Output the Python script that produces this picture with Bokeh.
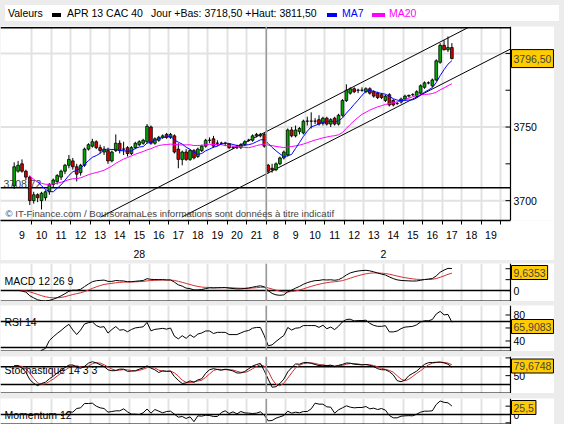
import numpy as np
import pandas as pd
from bokeh.plotting import figure
from bokeh.layouts import column
from bokeh.models import (ColumnDataSource, Span, Label, FixedTicker, Range1d,
                          Spacer, Grid, Div, LinearAxis)
from bokeh.core.properties import value
from bokeh.embed import file_html
from bokeh.resources import INLINE

# ---------------- data ----------------
hours_day1 = list(range(9, 22))      # 28 (March)
hours_day2 = list(range(8, 20))      # 2 (April)
day_labels = ["28", "2"]
bars_per_hour = 5

open_ = [3710, 3720, 3725, 3720, 3716, 3700, 3704, 3700, 3702, 3706,
         3711, 3713, 3716, 3720, 3724, 3727, 3723, 3719, 3724, 3735,
         3737, 3740, 3736, 3733, 3734, 3727, 3734, 3739, 3735, 3736,
         3732, 3736, 3738, 3739, 3740, 3750, 3739, 3741, 3743, 3745,
         3743, 3744, 3735, 3728, 3733, 3728, 3734, 3730, 3734, 3737,
         3741, 3742, 3739, 3739, 3739, 3738.5, 3736, 3736, 3736, 3738,
         3741, 3741, 3744, 3744, 3745,
         3724, 3722, 3721, 3725, 3729, 3731, 3748, 3744, 3747, 3746,
         3754, 3754, 3754, 3755, 3752.5, 3756, 3752, 3756, 3752, 3758,
         3768, 3773, 3776, 3775, 3775, 3774, 3776, 3774, 3773, 3772,
         3768, 3772, 3768, 3766, 3767, 3769, 3771, 3772, 3771, 3773,
         3777, 3780, 3778, 3782, 3794, 3805.5, 3802.5, 3804]
high_ = [3726, 3727, 3728, 3721, 3717, 3706, 3705, 3706, 3707, 3712,
         3715, 3718, 3721, 3725, 3731, 3729, 3725, 3725, 3736, 3739,
         3742, 3741, 3738, 3737, 3736, 3734, 3745, 3741, 3740, 3737,
         3737, 3740, 3741, 3742, 3752, 3751, 3743, 3744, 3745, 3746,
         3746, 3745, 3739, 3734, 3735, 3735, 3735, 3736, 3738, 3742,
         3743, 3744, 3741, 3740, 3740, 3739, 3737, 3738, 3739, 3741,
         3742, 3745, 3746, 3746, 3746,
         3725, 3725, 3726, 3730, 3734, 3749, 3750, 3751, 3750, 3755,
         3757, 3760, 3756, 3758, 3757, 3757, 3756, 3757, 3759, 3769,
         3779, 3777, 3777, 3776, 3777, 3777, 3777, 3775, 3774, 3773,
         3772, 3773, 3769, 3767, 3770, 3772, 3772, 3773, 3775, 3779,
         3781, 3781, 3783, 3796, 3807, 3809, 3811.5, 3807]
low_ = [3708, 3719, 3719, 3714, 3697, 3698, 3699, 3694, 3700, 3704,
        3709, 3711, 3714, 3718, 3722, 3721, 3713, 3717, 3723, 3734,
        3736, 3735, 3732, 3731, 3725, 3726, 3733, 3732, 3731, 3730,
        3731, 3735, 3737, 3738, 3739, 3738, 3738, 3740, 3742, 3742,
        3742, 3732, 3722, 3724, 3727, 3727, 3728, 3729, 3733, 3736,
        3739, 3736, 3737, 3738, 3737, 3735, 3735, 3735, 3735, 3737,
        3740, 3740, 3743, 3743, 3736,
        3718.5, 3719, 3720, 3724, 3728, 3730, 3743, 3743, 3745, 3745,
        3751, 3749, 3752, 3751, 3751, 3751, 3750, 3751, 3751, 3757,
        3767, 3772, 3773, 3773, 3774, 3773, 3772, 3770, 3769, 3769,
        3767, 3764, 3764, 3765, 3766, 3768, 3770, 3771, 3770, 3772,
        3776, 3779, 3777, 3781, 3793, 3802, 3801, 3796]
close_ = [3723, 3724, 3720, 3716, 3700, 3704, 3702, 3705, 3706, 3711,
          3714, 3717, 3720, 3724, 3728, 3723, 3718, 3724, 3735, 3738,
          3740, 3736, 3734, 3735, 3727, 3733, 3739, 3734, 3735, 3732,
          3736, 3739, 3740, 3741, 3750.5, 3739, 3742, 3743, 3744, 3743,
          3745, 3733, 3728, 3733, 3728, 3734, 3729, 3735, 3737, 3741,
          3741, 3737, 3739, 3739, 3739, 3736, 3736, 3736, 3738, 3740,
          3741, 3744, 3745, 3745, 3737,
          3720, 3721, 3725, 3729, 3733, 3748, 3744, 3748, 3749, 3754,
          3754, 3754, 3754, 3752, 3756, 3752, 3755, 3752, 3758, 3768,
          3775, 3776, 3774, 3775, 3775, 3776, 3773, 3771, 3770, 3770,
          3771, 3765, 3765, 3766, 3769, 3771, 3771.5, 3772, 3774, 3778,
          3780, 3780, 3782, 3795, 3805.5, 3802.5, 3804, 3796.5]

day_low, day_high = 3718.50, 3811.50
ref_level = 3708.72
# trend channel (bar index, price) end points
chan_up_x, chan_up_y = [22.1, 116.1], [3688.8, 3817.5]
chan_lo_x, chan_lo_y = [42.9, 127.0], [3688.8, 3803.0]
# last values shown in the boxes
last_macd, last_rsi, last_sto, last_mom = 9.6353, 65.9083, 79.6748, 25.5

# ---------------- indicators ----------------
c = pd.Series(close_, dtype=float)
hi = pd.Series(high_, dtype=float)
lo = pd.Series(low_, dtype=float)
ma7 = c.rolling(7).mean()
ma20 = c.rolling(20, min_periods=5).mean()
macd = c.ewm(span=12, adjust=False).mean() - c.ewm(span=26, adjust=False).mean()
sig = macd.ewm(span=9, adjust=False).mean()
d = c.diff().fillna(0)
ag = d.clip(lower=0).ewm(alpha=1 / 14, adjust=False).mean()
al = (-d.clip(upper=0)).ewm(alpha=1 / 14, adjust=False).mean()
rsi = 100 - 100 / (1 + ag / al.replace(0, np.nan))
ll = lo.rolling(14, min_periods=1).min()
hh = hi.rolling(14, min_periods=1).max()
kraw = (c - ll) / (hh - ll) * 100
sk = kraw.rolling(3, min_periods=1).mean()
sd = sk.rolling(3, min_periods=1).mean()
mom = c - c.shift(12)

x = np.arange(len(close_))
n_hours = len(hours_day1) + len(hours_day2)
hour_centers = [k * bars_per_hour + (bars_per_hour - 1) // 2 for k in range(n_hours)]
boundaries = [k * bars_per_hour - 0.5 for k in range(1, n_hours + 1)]
day_break = len(hours_day1) * bars_per_hour - 0.5
hour_text = [str(h) for h in hours_day1 + hours_day2]
day_pos = [float(np.mean(hour_centers[:len(hours_day1)])),
           float(np.mean(hour_centers[len(hours_day1):]))]

# ---------------- styling ----------------
W, RIGHT = 554, 44
FW = W - RIGHT
FONT = "Liberation Sans"
GRID = "#e2e2e2"
BG = "#ececec"
GREEN, RED = "#00a800", "#d40000"
SIGRED = "#d23030"
BOX = "#ffcc00"

X0, XR = -3.5, 127.0
pps = FW / (XR - X0)              # pixels per bar
x_range = Range1d(X0, XR + RIGHT / pps)
TICK = 5 / pps


def make_fig(h, yr, bottom=0, x_axis=False):
    f = figure(width=W, height=h, x_range=x_range, y_range=Range1d(*yr),
               output_backend="svg", toolbar_location=None,
               y_axis_type=None,
               x_axis_type="linear" if x_axis else None,
               min_border_left=0, min_border_right=0,
               min_border_top=0, min_border_bottom=bottom)
    f.background_fill_color = "white"
    f.border_fill_color = "white"
    f.outline_line_color = None
    for g in f.grid:
        g.visible = False
    f.add_layout(Grid(dimension=0, ticker=FixedTicker(ticks=boundaries),
                      grid_line_color=GRID, grid_line_width=2))
    f.add_layout(Span(location=day_break, dimension="height",
                      line_color="#9a9a9a", line_width=1.5))
    return f


def hline(f, y, width=1.5, level="glyph"):
    f.segment(x0=[X0], y0=[y], x1=[XR], y1=[y], line_color="black",
              line_width=width, level=level)


def right_axis(f, ticks, labels):
    f.add_layout(Span(location=XR, dimension="height", line_color="black",
                      line_width=1.2))
    n = len(ticks)
    f.segment(x0=[XR - TICK] * n, y0=ticks, x1=[XR] * n, y1=ticks,
              line_color="black", line_width=1)
    f.text(x=[XR] * n, y=ticks, text=labels, x_offset=3,
           text_baseline="middle", text_align="left",
           text_font=value(FONT), text_font_size=value("10.5px"),
           text_color="black")


def box(f, val, text, y_units="data", size="10.5px", pad=(2, 3)):
    f.add_layout(Label(x=XR, y=val, x_offset=1, y_units=y_units,
                       text=text, text_font=FONT, text_font_size=size,
                       text_baseline="middle", text_align="left",
                       background_fill_color=BOX, border_line_color="black",
                       border_line_width=1, padding=pad))


def tag(f, text, y):
    f.add_layout(Label(x=4, y=y, x_units="screen", y_units="screen", text=text,
                       text_font=FONT, text_font_size="10.5px",
                       text_baseline="alphabetic", text_color="black"))


def fmt(v):
    return f"{v:.2f}".replace(".", ",")


# ---------------- title row ----------------
title_items = [
    (3, "Valeurs", "black"),
    (62, "APR 13 CAC 40", "black"),
    (146, f"Jour +Bas: {fmt(day_low)} +Haut: {fmt(day_high)}", "black"),
    (337, "MA7", "#0000ff"),
    (384, "MA20", "#ff00ff"),
]
swatches = [(47, 9, "black"), (322, 10, "#0000ff"), (367, 13, "#ff00ff")]
html = ('<div style="position:relative;width:%dpx;height:16px;background:white;'
        "font-family:'Liberation Sans';font-size:10.5px;\">" % W)
for tx, txt, col in title_items:
    html += ('<span style="position:absolute;left:%dpx;top:2px;line-height:13px;'
             'color:%s;white-space:nowrap;">%s</span>' % (tx, col, txt))
for sx, sw, col in swatches:
    html += ('<span style="position:absolute;left:%dpx;top:8px;width:%dpx;'
             'height:4px;background:%s;"></span>' % (sx, sw, col))
html += "</div>"
title = Div(text=html, width=W, height=16, styles={"background-color": "white"})

# ---------------- main price panel ----------------
Y0, Y1 = 3686.5, 3818.3
p = make_fig(234, (Y0, Y1), bottom=32, x_axis=True)
p.segment(x0=[X0] * 3, y0=[3700, 3750, 3800], x1=[XR] * 3, y1=[3700, 3750, 3800],
          line_color=GRID, line_width=2, level="underlay")
right_axis(p, [3700, 3725, 3750, 3775, 3800], ["3700", "", "3750", "", ""])

xa = p.xaxis[0]
xa.ticker = FixedTicker(ticks=hour_centers, minor_ticks=boundaries)
xa.major_label_overrides = {hc: t for hc, t in zip(hour_centers, hour_text)}
xa.bounds = (X0, XR)
xa.major_tick_in = 0
xa.major_tick_out = 0
xa.minor_tick_in = 0
xa.minor_tick_out = 4
xa.minor_tick_line_color = "black"
xa.axis_line_color = "black"
xa.axis_line_width = 1.5
xa.major_label_standoff = 6
xa.major_label_text_font = FONT
xa.major_label_text_font_size = "10.5px"
xa.major_label_text_color = "black"

da = LinearAxis(ticker=FixedTicker(ticks=day_pos),
                major_label_overrides={dp: t for dp, t in zip(day_pos, day_labels)},
                axis_line_color=None, major_tick_line_color=None,
                minor_tick_line_color=None, major_label_standoff=2,
                major_label_text_font=FONT, major_label_text_font_size="10.5px",
                major_label_text_color="black")
p.add_layout(da, "below")

p.add_layout(Label(x=3, y=ref_level, x_units="screen", text=fmt(ref_level),
                   text_font=FONT, text_font_size="10.5px",
                   text_baseline="bottom", level="underlay"))
hline(p, ref_level)
hline(p, 3817.5)
p.line(chan_up_x, chan_up_y, line_color="black", line_width=1)
p.line(chan_lo_x, chan_lo_y, line_color="black", line_width=1)

src = ColumnDataSource(dict(x=x, o=open_, h=high_, l=low_, c=close_,
                            top=np.maximum(open_, close_),
                            bot=np.minimum(open_, close_),
                            col=[GREEN if cc >= oo else RED
                                 for oo, cc in zip(open_, close_)]))
p.segment(x0="x", y0="l", x1="x", y1="h", source=src, line_color="black",
          line_width=1)
p.vbar(x="x", top="top", bottom="bot", width=0.7, source=src,
       fill_color="col", line_color="black", line_width=0.8)
p.line(x, ma20, line_color="#ff00ff", line_width=1)
p.line(x, ma7, line_color="#0000ff", line_width=1)

p.add_layout(Label(x=5, y=2, x_units="screen", y_units="screen",
                   text="\u00a9 IT-Finance.com / BoursoramaLes informations sont donn\u00e9es \u00e0 titre indicatif",
                   text_font=FONT, text_font_size="9.6px", text_baseline="bottom"))
box(p, close_[-1], fmt(close_[-1]), pad=(2, 5))

# ---------------- MACD ----------------
MY = (-5.0, 12.4)
m = make_fig(38, MY)
right_axis(m, [0, 5, 10], ["0", "", ""])
hline(m, 0)
hline(m, MY[0], 2)
m.line(x, sig, line_color=SIGRED, line_width=1)
m.line(x, macd, line_color="black", line_width=1)
tag(m, "MACD 12 26 9", 21)
box(m, 29, f"{last_macd:.4f}".replace(".", ","), y_units="screen")

# ---------------- RSI ----------------
RY = (23.8, 94.6)
r = make_fig(46, RY)
right_axis(r, [40, 60, 80], ["40", "60", "80"])
for lv in (70, 30):
    hline(r, lv)
hline(r, RY[0], 2)
r.line(x, rsi, line_color="black", line_width=1)
tag(r, "RSI 14", 30)
box(r, 25, f"{last_rsi:.4f}".replace(".", ","), y_units="screen")

# ---------------- Stochastic ----------------
SY = (-10.3, 114.7)
s = make_fig(37, SY)
right_axis(s, [50, 110], ["50", ""])
for lv in (80, 20):
    hline(s, lv)
hline(s, SY[0], 2)
s.line(x, sd, line_color=SIGRED, line_width=1)
s.line(x, sk, line_color="black", line_width=1)
tag(s, "Stochastique 14 3 3", 24)
box(s, 27.5, f"{last_sto:.4f}".replace(".", ","), y_units="screen")

# ---------------- Momentum ----------------
OY = (-30, 48)
mo = make_fig(26, OY)
right_axis(mo, [-25, 0, 25], ["", "0", ""])
hline(mo, 0)
hline(mo, OY[0], 2)
mo.line(x, mom, line_color="black", line_width=1)
tag(mo, "Momentum 12", 10)
box(mo, 17, f"{last_mom:.1f}".replace(".", ","), y_units="screen")


def gap(h):
    return Spacer(width=W, height=h, styles={"background-color": BG})


layout = column(title, p, gap(3), m, gap(4), r, gap(5), s, gap(5), mo,
                spacing=0, styles={"background-color": BG})

open("out.html", "w").write(file_html(layout, INLINE))
